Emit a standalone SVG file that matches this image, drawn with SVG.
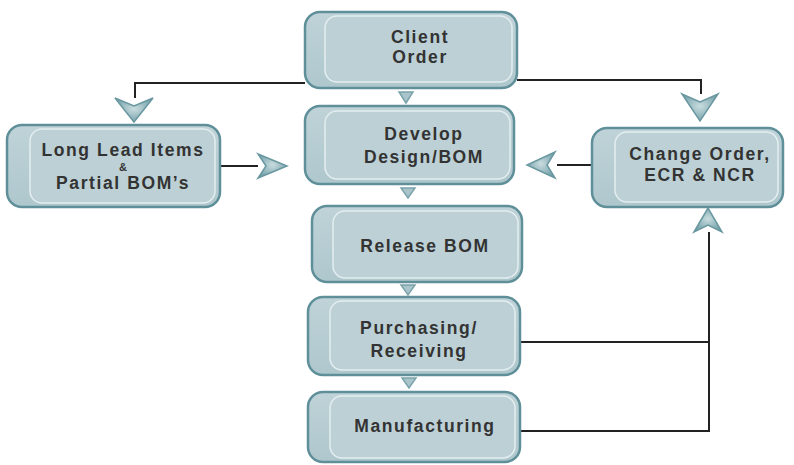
<svg xmlns="http://www.w3.org/2000/svg" width="794" height="465" viewBox="0 0 794 465">
  <defs>
    <linearGradient id="boxg" x1="0" y1="0" x2="0" y2="1">
      <stop offset="0" stop-color="#bfd3d8"/>
      <stop offset="1" stop-color="#aec7cd"/>
    </linearGradient>
    <radialGradient id="arrg" cx="0.5" cy="0.45" r="0.6">
      <stop offset="0" stop-color="#c9dcdf"/>
      <stop offset="1" stop-color="#6f9ea7"/>
    </radialGradient>
  </defs>
  <style>
    .outer { fill: url(#boxg); stroke: #5f8f99; stroke-width: 2.5; }
    .inner { fill: #bcd0d5; stroke: #e4eef0; stroke-width: 1.5; }
    .lbl { font-family: "Liberation Sans", Arial, sans-serif; font-weight: bold; font-size: 17.5px; letter-spacing: 1.6px; fill: #333; text-anchor: middle; }
    .amp { font-size: 11px; letter-spacing: 0; }
    .line { fill: none; stroke: #222; stroke-width: 2; }
    .chev { fill: url(#arrg); stroke: #6a98a1; stroke-width: 1.5; stroke-linejoin: miter; }
    .tri { fill: #a9c4ca; stroke: #7aa3ab; stroke-width: 1.5; }
  </style>

  <g id="connectors">
    <polyline class="line" points="305,83 135,83 135,98"/>
    <polyline class="line" points="517,80 701,80 701,94"/>
    <line class="line" x1="220" y1="166" x2="258" y2="166"/>
    <line class="line" x1="592" y1="165" x2="557" y2="165"/>
    <line class="line" x1="520" y1="342" x2="709" y2="342"/>
    <polyline class="line" points="520,431 709,431 709,232"/>
    <path class="chev" d="M115,98 L134,122 L153,98 L134,106 Z"/>
    <path class="chev" d="M682,94 L700,121 L718,94 L700,102 Z"/>
    <path class="chev" d="M258,154 L287,166 L258,178 L266,166 Z"/>
    <path class="chev" d="M555,152 L527,165 L555,178 L547,165 Z"/>
    <path class="chev" d="M694,232 L708,208 L722,232 L708,225 Z"/>
    <path class="tri" d="M399,92 L413,92 L406,103 Z"/>
    <path class="tri" d="M401,188 L415,188 L408,198 Z"/>
    <path class="tri" d="M401,285 L415,285 L408,295 Z"/>
    <path class="tri" d="M402,378 L416,378 L409,388 Z"/>
  </g>

  <g id="client-order">
    <rect class="outer" x="305" y="12" width="212" height="76" rx="15"/>
    <rect class="inner" x="325" y="16" width="187" height="66" rx="12"/>
    <text class="lbl" x="420" y="43">Client</text>
    <text class="lbl" x="420" y="63">Order</text>
  </g>

  <g id="develop-design">
    <rect class="outer" x="305" y="106" width="209" height="78" rx="15"/>
    <rect class="inner" x="325" y="111" width="185" height="68" rx="12"/>
    <text class="lbl" x="424" y="140">Develop</text>
    <text class="lbl" x="424" y="163">Design/BOM</text>
  </g>

  <g id="long-lead">
    <rect class="outer" x="7" y="125" width="213" height="82" rx="15"/>
    <rect class="inner" x="30" y="129" width="185" height="74" rx="12"/>
    <text class="lbl" x="123" y="156">Long Lead Items</text>
    <text class="lbl amp" x="123" y="171">&amp;</text>
    <text class="lbl" x="123" y="189">Partial BOM’s</text>
  </g>

  <g id="change-order">
    <rect class="outer" x="592" y="128" width="191" height="79" rx="15"/>
    <rect class="inner" x="615" y="132" width="163" height="70" rx="12"/>
    <text class="lbl" x="700" y="160">Change Order,</text>
    <text class="lbl" x="700" y="181">ECR &amp; NCR</text>
  </g>

  <g id="release-bom">
    <rect class="outer" x="312" y="206" width="210" height="76" rx="15"/>
    <rect class="inner" x="333" y="211" width="185" height="67" rx="12"/>
    <text class="lbl" x="425" y="252">Release BOM</text>
  </g>

  <g id="purchasing">
    <rect class="outer" x="308" y="297" width="212" height="78" rx="15"/>
    <rect class="inner" x="330" y="301" width="185" height="69" rx="12"/>
    <text class="lbl" x="419" y="334">Purchasing/</text>
    <text class="lbl" x="419" y="357">Receiving</text>
  </g>

  <g id="manufacturing">
    <rect class="outer" x="308" y="392" width="212" height="70" rx="15"/>
    <rect class="inner" x="330" y="396" width="185" height="62" rx="12"/>
    <text class="lbl" x="425" y="432">Manufacturing</text>
  </g>
</svg>
